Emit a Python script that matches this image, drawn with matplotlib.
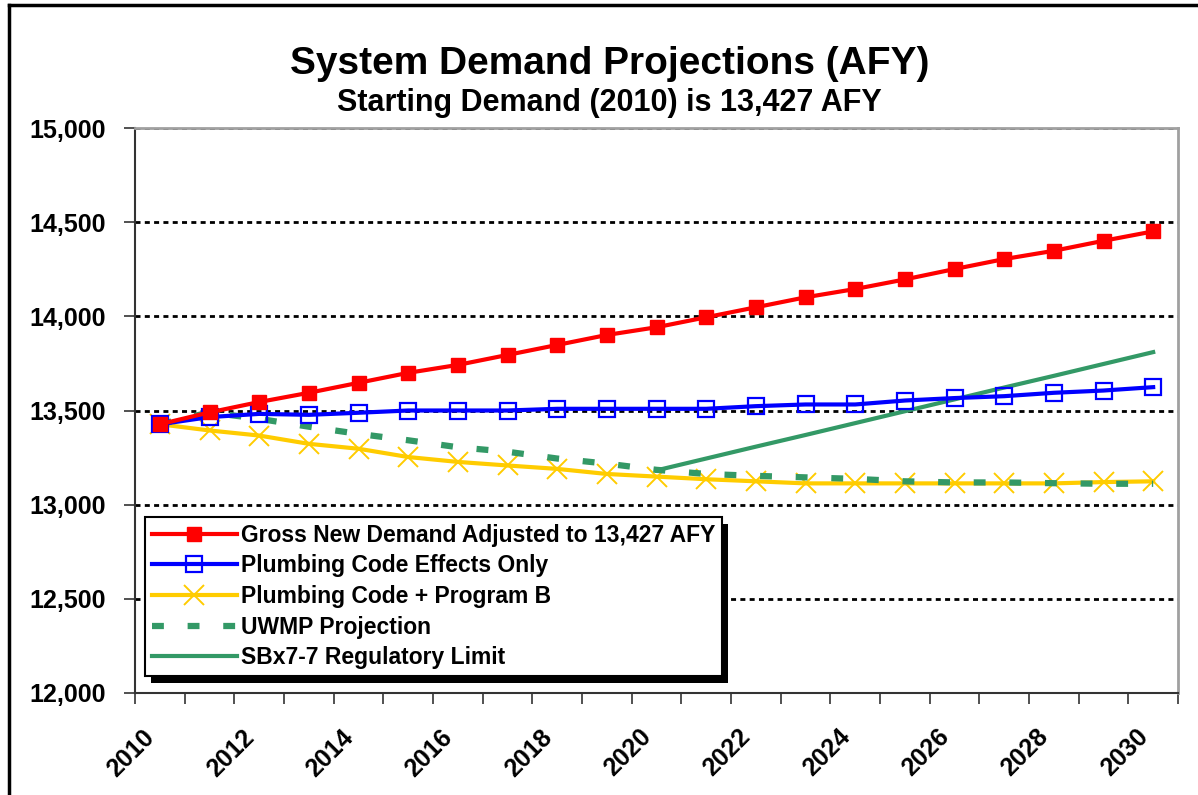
import matplotlib
matplotlib.use('Agg')
import matplotlib.pyplot as plt
import matplotlib.transforms as mtransforms
from matplotlib.patches import Rectangle
from matplotlib.lines import Line2D

years = list(range(2010, 2031))
gross = [13427, 13490, 13545, 13594, 13647, 13700, 13742, 13795, 13848, 13901, 13942,
         13995, 14048, 14101, 14145, 14196, 14251, 14304, 14348, 14401, 14451]
plumbing = [13427, 13465, 13482, 13477, 13488, 13500, 13500, 13500, 13509, 13509, 13509,
            13509, 13523, 13532, 13532, 13553, 13566, 13576, 13594, 13606, 13624]
program_b = [13427, 13394, 13367, 13323, 13297, 13253, 13227, 13208, 13190, 13163, 13149,
             13135, 13124, 13113, 13113, 13113, 13113, 13113, 13113, 13120, 13124]
uwmp = [13427, 13490, 13456, 13414, 13376, 13342, 13305, 13281, 13245, 13218, 13185,
        13163, 13153, 13145, 13137, 13124, 13118, 13118, 13114, 13111, 13111]
sbx7_years = list(range(2020, 2031))
sbx7 = [13182, 13245, 13308, 13370, 13433, 13496, 13559, 13622, 13684, 13747, 13810]

labels = ['Gross New Demand Adjusted to 13,427 AFY', 'Plumbing Code Effects Only',
          'Plumbing Code + Program B', 'UWMP Projection', 'SBx7-7 Regulatory Limit']
y_ticks = [12000, 12500, 13000, 13500, 14000, 14500, 15000]

plt.rcParams['font.family'] = ['Liberation Sans', 'DejaVu Sans']
plt.rcParams['font.weight'] = 'bold'

W, H = 1198, 795
fig = plt.figure(figsize=(W / 100, H / 100), dpi=100)
ax = fig.add_axes([135 / W, 1 - 693 / H, (1178 - 135) / W, (693 - 128) / H])

xi = [y - years[0] for y in years]
xs = [y - years[0] for y in sbx7_years]

# dotted gridlines
for v in y_ticks[1:]:
    ax.axhline(v, color='black', lw=2, linestyle=(0, (1.8, 1.55)), zorder=1)

red, blue, yellow, green = '#FF0000', '#0000FF', '#FFCC00', '#339966'
ax.plot(xi, gross, color=red, lw=3, marker='s', ms=10, mec=red, mfc=red, label=labels[0], zorder=6)
ax.plot(xi, plumbing, color=blue, lw=3, marker='s', ms=11, mec=blue, mfc='none', mew=1.6,
        label=labels[1], zorder=5)
ax.plot(xi, program_b, color=yellow, lw=3, marker='x', ms=15, mec=yellow, mew=1.4,
        label=labels[2], zorder=3)
ax.plot(xi, uwmp, color=green, lw=4.5, linestyle=(0, (1.9, 3.8)), label=labels[3], zorder=4)
ax.plot(xs, sbx7, color=green, lw=3, label=labels[4], zorder=4)

ax.set_xlim(-0.5, 20.5)
ax.set_ylim(12000, 15000)

ax.set_yticks(y_ticks)
ax.set_yticklabels([f'{v:,}' for v in y_ticks])
ax.tick_params(axis='y', length=8, width=1.2, pad=13, labelsize=18, color='#333333')

ax.set_xticks(xi[::2])
ax.set_xticklabels([str(y) for y in years[::2]], rotation=45, ha='right', va='center',
                   rotation_mode='anchor')
ax.set_xticks([i - 0.5 for i in range(22)], minor=True)
ax.tick_params(axis='x', which='major', length=0, pad=29, labelsize=18)
ax.tick_params(axis='x', which='minor', length=8, width=1.2, color='#333333')
shift = mtransforms.ScaledTranslation(-0.09, 0, fig.dpi_scale_trans)
for lab in ax.get_xticklabels():
    lab.set_transform(lab.get_transform() + shift)

for s in ['left', 'bottom']:
    ax.spines[s].set_color('#333333')
    ax.spines[s].set_linewidth(1.5)
for s in ['right', 'top']:
    ax.spines[s].set_color('#a0a0a0')
    ax.spines[s].set_linewidth(2)

leg = ax.legend(loc='upper left', bbox_to_anchor=(145 / W, 1 - 517 / H),
                bbox_transform=fig.transFigure, borderaxespad=0, fancybox=False,
                framealpha=1, edgecolor='black', fontsize=16.5, handlelength=3.7,
                handletextpad=0.2, labelspacing=0.33, borderpad=0.3, numpoints=1)
leg.get_frame().set_linewidth(1.5)
leg.set_zorder(10)

fig.text(610 / W, 1 - 74 / H, 'System Demand Projections (AFY)', ha='center', va='baseline',
         fontsize=28, fontweight='bold')
fig.text(609 / W, 1 - 111 / H, 'Starting Demand (2010) is 13,427 AFY', ha='center',
         va='baseline', fontsize=22, fontweight='bold')

# outer chart border (left and top visible)
fig.add_artist(Line2D([9 / W, 9 / W], [0, 1 - 5 / H], transform=fig.transFigure,
                      color='black', lw=2.5))
fig.add_artist(Line2D([9 / W, 1], [1 - 5 / H, 1 - 5 / H], transform=fig.transFigure,
                      color='black', lw=2.5))

# legend shadow
fig.canvas.draw()
bb = leg.get_window_extent()
shadow = Rectangle((bb.x0 + 6, bb.y0 - 7), bb.width, bb.height, facecolor='black',
                   edgecolor='none', transform=mtransforms.IdentityTransform(), zorder=9)
shadow.set_clip_on(False)
ax.add_artist(shadow)

fig.savefig('out.png', dpi=100)
